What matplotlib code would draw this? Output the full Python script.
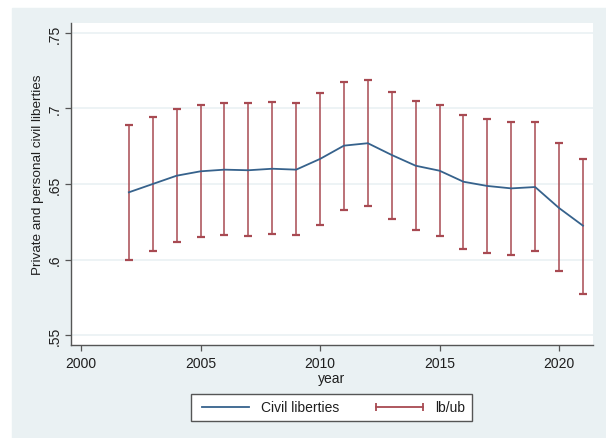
import numpy as np
import matplotlib.pyplot as plt
from matplotlib.lines import Line2D
from matplotlib.patches import Rectangle

plt.rcParams['font.family'] = ['Liberation Sans', 'DejaVu Sans']

years = np.arange(2002, 2022)
civil = [.6445, .650, .6555, .6584, .6595, .6591, .6601, .6595, .6666, .6754,
         .677, .6692, .6621, .6588, .6515, .6487, .6471, .648, .6341, .6224]
upper = [.6889, .6942, .6995, .7025, .7036, .7034, .7041, .7036, .7101, .7178,
         .7191, .7109, .7048, .7025, .6959, .693, .6911, .6911, .677, .6663]
lower = [.5999, .6056, .6114, .6147, .616, .6156, .6167, .616, .6231, .6328,
         .6354, .6268, .6193, .6153, .6072, .6041, .6032, .6056, .5922, .5772]

x_ticks = [2000, 2005, 2010, 2015, 2020]
y_ticks = [.55, .6, .65, .7, .75]
y_labels = [".55", ".6", ".65", ".7", ".75"]

line_col = "#36628C"
cap_col = "#A84A52"
bg_col = "#EAF1F3"
axis_col = "#555555"
text_col = "#1E1E1E"

fig = plt.figure(figsize=(6.06, 4.39), dpi=100)
# grey graph region behind the plot, leaving a thin white strip top and left
fig.patches.append(Rectangle((12 / 606, 0), 1, 1 - 9 / 439,
                             transform=fig.transFigure, color=bg_col, zorder=-1))

ax = fig.add_axes([71 / 606, 1 - 346 / 439, 522 / 606, 322 / 439])
ax.set_facecolor("white")

lo = np.array(lower)
hi = np.array(upper)
ax.errorbar(years, (lo + hi) / 2, yerr=(hi - lo) / 2, fmt="none",
            ecolor=cap_col, elinewidth=1.1, capsize=3.2, capthick=1.6, zorder=2)
ax.plot(years, civil, color=line_col, lw=1.3, zorder=3)

ax.set_xlim(1999.58, 2021.42)
ax.set_ylim(.5434, .7566)
ax.set_xticks(x_ticks)
ax.set_yticks(y_ticks)
ax.set_yticklabels(y_labels, rotation=90, va="center")
ax.grid(axis="y", color=bg_col, lw=1.2, zorder=0)
ax.set_axisbelow(True)

for side in ["top", "right"]:
    ax.spines[side].set_visible(False)
for side in ["left", "bottom"]:
    ax.spines[side].set_color(axis_col)
    ax.spines[side].set_linewidth(1.0)
ax.tick_params(axis="both", length=4, width=0.9, color=axis_col,
               labelsize=10, labelcolor=text_col)
ax.tick_params(axis="y", pad=2.5)
ax.tick_params(axis="x", pad=4)

ax.set_xlabel("year", fontsize=10, color=text_col, labelpad=1)
ax.set_ylabel("Private and personal civil liberties", fontsize=9.7,
              color=text_col)
ax.yaxis.set_label_coords(-0.052, 0.531)

handles = [Line2D([], [], color=line_col, lw=1.3),
           Line2D([], [], color=cap_col, lw=1.3, marker="|", markersize=6,
                  markeredgewidth=1.3)]
leg = fig.legend(handles, ["Civil liberties", "lb/ub"], loc="center",
                 bbox_to_anchor=(331.5 / 606, 1 - 408.5 / 439), ncol=2,
                 numpoints=2, fontsize=10, handlelength=4.0, handletextpad=0.6,
                 columnspacing=2.3, borderpad=0.45, fancybox=False,
                 framealpha=1, facecolor="white", edgecolor=axis_col)
leg.get_frame().set_linewidth(1.0)
for t in leg.get_texts():
    t.set_color(text_col)

fig.savefig("out.png", dpi=100)
